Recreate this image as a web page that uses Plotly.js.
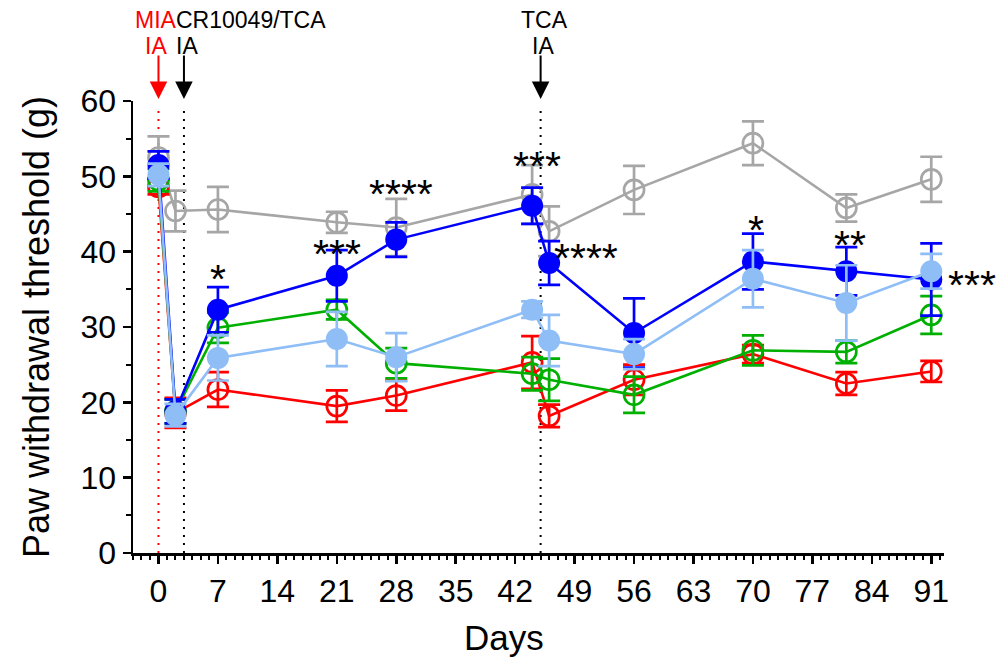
<!DOCTYPE html>
<html><head><meta charset="utf-8">
<script src="https://cdn.plot.ly/plotly-3.0.1.min.js"></script>
<style>html,body{margin:0;padding:0;background:#fff}</style>
</head><body><div id="chart" style="width:997px;height:661px"></div>
<script>
// ---- data ----
const days = [0, 2, 7, 21, 28, 44, 46, 56, 70, 81, 91];
const grayMean  = [52.5, 45.4, 45.6, 43.9, 43.2, 47.6, 42.7, 48.2, 54.4, 45.8, 49.6];
const grayErr   = [2.8, 2.7, 3.0, 1.4, 3.8, 3.9, 3.3, 3.2, 2.9, 1.8, 3.0];
const redMean   = [48.6, 18.6, 21.7, 19.5, 20.9, 25.3, 18.2, 23.0, 26.4, 22.5, 24.1];
const redErr    = [1.0, 2.0, 2.3, 2.1, 2.0, 3.5, 1.5, 2.0, 1.2, 1.5, 1.4];
const greenMean = [49.5, 18.8, 29.9, 32.3, 25.2, 23.8, 23.0, 21.0, 26.9, 26.7, 31.6];
const greenErr  = [1.5, 1.6, 2.0, 1.3, 2.0, 2.2, 2.8, 2.4, 2.0, 1.5, 2.5];
const blueMean  = [51.5, 18.8, 32.3, 36.8, 41.6, 46.1, 38.5, 29.2, 38.7, 37.4, 36.3];
const blueErr   = [1.8, 1.6, 3.0, 3.4, 2.3, 2.4, 2.9, 4.6, 3.7, 3.2, 4.8];
const lightMean = [50.2, 18.3, 25.9, 28.4, 26.0, 32.3, 28.2, 26.4, 36.4, 33.2, 37.4];
const lightErr  = [1.5, 1.5, 3.0, 3.6, 3.2, 1.1, 3.4, 2.0, 3.8, 5.0, 2.3];

const xTickVals = [0, 7, 14, 21, 28, 35, 42, 49, 56, 63, 70, 77, 84, 91];

// injection events: day, label lines, colour
const injDays   = [0, 3, 45];
const injColors = ['#FF0000', '#000000', '#000000'];
const injTop    = ['MIA', 'CR10049/TCA', 'TCA'];
const injBottom = ['IA', 'IA', 'IA'];

// significance stars: label, day position, value position
const starText = ['*', '***', '****', '***', '****', '*', '**', '***'];
const starDay  = [7, 21, 28.6, 44.6, 50.3, 70.4, 81.4, 95.8];
const starVal  = [36.4, 39.7, 47.7, 51.4, 39.1, 42.9, 40.9, 35.6];

const xRange = [-3, 92.5];
const yRange = [0, 60];

// ---- traces ----
function series(y, err, color, open) {
  return {
    type: 'scatter', mode: 'lines+markers', x: days, y: y,
    line: {color: color, width: 2.6},
    marker: open
      ? {symbol: 'circle-open', size: 20, color: color, line: {color: color, width: 2.7}}
      : {symbol: 'circle', size: 22, color: color, line: {width: 0}},
    error_y: {type: 'data', array: err, visible: true, color: color, thickness: 2.7, width: 11},
    showlegend: false, cliponaxis: false
  };
}
const data = [
  series(grayMean, grayErr, '#A6A6A6', true),
  series(redMean, redErr, '#FF0000', true),
  series(greenMean, greenErr, '#00B000', true),
  series(blueMean, blueErr, '#0000FF', false),
  series(lightMean, lightErr, '#8FBEF7', false)
];

const FONT = 'Liberation Sans, Arial, sans-serif';
const shapes = [];
const annotations = [];
const ypx = 452; // plot height in px
injDays.forEach((d, i) => {
  shapes.push({type: 'line', xref: 'x', yref: 'y', x0: d, x1: d, y0: 0, y1: 59.3,
    line: {color: injColors[i], width: 2, dash: '2px,6px'}, layer: 'below'});
  annotations.push({xref: 'x', yref: 'paper', x: d, y: 1 + 2 / ypx, text: '',
    showarrow: true, ax: 0, ay: -45, arrowhead: 2, arrowsize: 1.75, arrowwidth: 2,
    arrowcolor: injColors[i], standoff: 0, startstandoff: 0});
});
// label texts
annotations.push({xref: 'x', yref: 'paper', x: injDays[0], y: 1 + 81.5 / ypx, xanchor: 'center', yanchor: 'middle',
  text: injTop[0], showarrow: false, font: {family: FONT, size: 23, color: injColors[0]}, xshift: -2});
annotations.push({xref: 'x', yref: 'paper', x: injDays[0], y: 1 + 55 / ypx, xanchor: 'center', yanchor: 'middle',
  text: injBottom[0], showarrow: false, font: {family: FONT, size: 23, color: injColors[0]}, xshift: -2});
annotations.push({xref: 'x', yref: 'paper', x: injDays[1], y: 1 + 81.5 / ypx, xanchor: 'left', yanchor: 'middle',
  text: injTop[1], showarrow: false, font: {family: FONT, size: 23, color: injColors[1]}, xshift: -10});
annotations.push({xref: 'x', yref: 'paper', x: injDays[1], y: 1 + 55 / ypx, xanchor: 'center', yanchor: 'middle',
  text: injBottom[1], showarrow: false, font: {family: FONT, size: 23, color: injColors[1]}, xshift: 3});
annotations.push({xref: 'x', yref: 'paper', x: injDays[2], y: 1 + 81.5 / ypx, xanchor: 'center', yanchor: 'middle',
  text: injTop[2], showarrow: false, font: {family: FONT, size: 23, color: injColors[2]}, xshift: 4});
annotations.push({xref: 'x', yref: 'paper', x: injDays[2], y: 1 + 55 / ypx, xanchor: 'center', yanchor: 'middle',
  text: injBottom[2], showarrow: false, font: {family: FONT, size: 23, color: injColors[2]}, xshift: 2});

starText.forEach((t, i) => {
  const inRange = starDay[i] <= xRange[1];
  annotations.push({
    xref: inRange ? 'x' : 'paper', yref: 'y',
    x: inRange ? starDay[i] : (starDay[i] - xRange[0]) / (xRange[1] - xRange[0]),
    y: starVal[i], text: t, showarrow: false, xanchor: 'center', yanchor: 'middle',
    font: {family: FONT, size: 41, color: '#000'}, borderpad: 0
  });
});

// x-axis title placed as annotation (offset left of centre as in the figure)
annotations.push({xref: 'paper', yref: 'paper', x: 0.457, y: -84 / ypx, text: 'Days',
  showarrow: false, xanchor: 'center', yanchor: 'middle', font: {family: FONT, size: 35, color: '#000'}});

const layout = {
  width: 997, height: 661,
  margin: {l: 133, r: 53, t: 101, b: 108},
  paper_bgcolor: '#fff', plot_bgcolor: '#fff',
  font: {family: FONT, color: '#000'},
  showlegend: false,
  xaxis: {
    range: xRange, tickmode: 'array', tickvals: xTickVals, ticktext: xTickVals.map(String),
    ticks: 'outside', ticklen: 8, tickwidth: 2.5, tickcolor: '#000',
    showline: true, linewidth: 2.5, linecolor: '#000', showgrid: false, zeroline: false,
    tickfont: {family: FONT, size: 32, color: '#000'},
    minor: {dtick: 1, tick0: 0, ticks: 'outside', ticklen: 4, tickwidth: 2, tickcolor: '#000', showgrid: false}
  },
  yaxis: {
    range: yRange, tickmode: 'linear', tick0: 0, dtick: 10,
    ticks: 'outside', ticklen: 8, tickwidth: 2.5, tickcolor: '#000',
    showline: true, linewidth: 2.5, linecolor: '#000', showgrid: false, zeroline: false,
    tickfont: {family: FONT, size: 32, color: '#000'},
    minor: {dtick: 5, ticks: 'outside', ticklen: 5, tickwidth: 2, tickcolor: '#000', showgrid: false},
    title: {text: 'Paw withdrawal threshold (g)', font: {family: FONT, size: 36, color: '#000'}, standoff: 20}
  },
  shapes: shapes,
  annotations: annotations
};

Plotly.newPlot('chart', data, layout, {staticPlot: true, displayModeBar: false});
</script>
</body></html>
